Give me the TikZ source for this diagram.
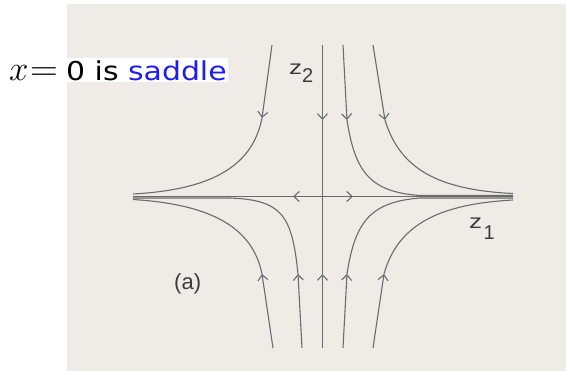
\documentclass[tikz,border=0pt]{standalone}
\usepackage{fontspec}
\setsansfont{DejaVu Sans}
\newfontfamily\labfont{Liberation Sans}
\usetikzlibrary{arrows.meta}
\definecolor{scan}{HTML}{EFECE8}
\definecolor{curve}{HTML}{6B6B6B}
\definecolor{lab}{HTML}{3C3C3C}
\definecolor{sblue}{RGB}{30,30,235}
\begin{document}
\begin{tikzpicture}[x=1pt,y=-1pt,
  traj/.style={draw=curve, line width=1.1pt},
  tipped/.style={traj, -{Straight Barb[length=5.5pt,width=10pt]}},
  lbl/.style={inner sep=0pt, anchor=base west, text=lab, font=\labfont\fontsize{20}{20}\selectfont},
  ttl/.style={inner sep=0pt, anchor=base west}]
\useasboundingbox (0,0) rectangle (566,371);
\fill[scan] (67,4) rectangle (566,371);
\fill[white] (67,58) rectangle (228,82.5);
% title
\node[ttl] (tx) at (9,81) {\Huge\scalebox{1.4}{$x$}};
\node[ttl] (teq) at (30,81) {\Huge\scalebox{1.55}[1.45]{$=$}};
\node[ttl] (trest) at (66,81) {\fontsize{26}{26}\selectfont\sffamily\scalebox{1.15}[1]{0 is \textcolor{sblue}{saddle}}};
% axes
\draw[traj] (133,196.5) -- (513,196.5);
\draw[tipped] (323,196.5) -- (293,196.5);
\draw[tipped] (323,196.5) -- (353,196.5);
\draw[tipped] (322.5,45) -- (322.5,120);
\draw[traj] (322.5,120) -- (322.5,274);
\draw[tipped] (322.5,348) -- (322.5,274);
% upper left
\draw[tipped] (272,45) -- (262,118);
\draw[traj] (262,118) .. controls (252,170) and (205,190) .. (133,194);
% upper right inner
\draw[tipped] (343,45) -- (347,120);
\draw[traj] (347,120) .. controls (355,172) and (370,192) .. (420,195.5) -- (513,195.5);
% upper right outer
\draw[tipped] (373,45) -- (385,120);
\draw[traj] (385,120) .. controls (400,170) and (440,190) .. (513,193.5);
% lower left outer
\draw[tipped] (273,348) -- (262,274);
\draw[traj] (262,274) .. controls (252,224) and (205,204) .. (133,199.5);
% lower left inner
\draw[tipped] (302,348) -- (298,274);
\draw[traj] (298,274) .. controls (292,215) and (282,200) .. (230,198) -- (133,198);
% lower right inner
\draw[tipped] (343,348) -- (347,274);
\draw[traj] (347,274) .. controls (355,222) and (370,202) .. (420,198) -- (513,198);
% lower right outer
\draw[tipped] (373,348) -- (384,274);
\draw[traj] (384,274) .. controls (398,224) and (440,204) .. (513,200);
% labels
\node[lbl] (ztwo) at (289,75) {\scalebox{1.3}[1]{z}\raisebox{-8pt}{2}};
\node[lbl] (zone) at (469,229) {\scalebox{1.3}[1]{z}\hspace{1.5pt}\raisebox{-11pt}{1}};
\node[lbl, font=\labfont\fontsize{22}{22}\selectfont] (alabel) at (174,290) {(a)};
\end{tikzpicture}
\end{document}
